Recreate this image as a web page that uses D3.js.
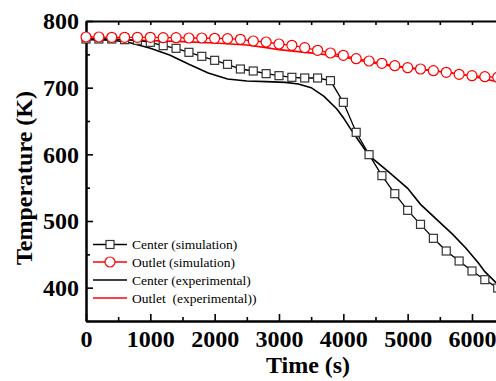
<!DOCTYPE html>
<html>
<head>
<meta charset="utf-8">
<script src="https://cdn.jsdelivr.net/npm/d3@7"></script>
<style>
  body { margin: 0; background: #fff; }
  svg { display: block; }
  text { font-family: "Liberation Serif", "Times New Roman", serif; }
</style>
</head>
<body>
<div id="chart"></div>
<script>
// simulation markers (every 200 s)
const simTimes = [0, 200, 400, 600, 800, 1000, 1200, 1400, 1600, 1800, 2000, 2200, 2400, 2600, 2800, 3000,
  3200, 3400, 3600, 3800, 4000, 4200, 4400, 4600, 4800, 5000, 5200, 5400, 5600, 5800, 6000, 6200, 6400];
const centerSim = [773, 773, 773, 772, 771, 768, 763, 759, 753, 747, 741, 735, 728, 725, 721, 718,
  715.5, 714.5, 714.5, 710.5, 678, 633, 599.5, 568, 541, 516, 495, 474, 455, 440, 425, 412, 399.5];
const outletSim = [776, 776, 775.5, 775.5, 775.5, 775.5, 775, 775, 774.5, 774.5, 774, 773.5, 772.5, 770, 768.5, 765.5,
  763.5, 760, 756, 752, 748.5, 743.5, 740, 736.5, 733, 730, 728, 725.5, 723, 720, 718, 716.5, 715.5];

// experimental curves
const centerExpTimes = [0, 300, 500, 700, 1000, 1300, 1600, 1900, 2200, 2500, 2800, 3100, 3300, 3500, 3700, 3900,
  4000, 4100, 4200, 4400, 4700, 5000, 5200, 5400, 5700, 5900, 6100, 6200, 6400, 6600];
const centerExp = [772, 771.5, 770, 767, 759, 749, 735, 722, 713, 710, 709, 708, 705.5, 700, 687, 668,
  655, 640, 626, 598, 574, 549, 525, 507, 480, 460, 437, 424, 405, 385];
const outletExpTimes = [0, 500, 1000, 1500, 2000, 2500, 2800, 3000, 3300, 3600, 4000, 4300, 4700, 5200, 5700, 6000, 6200, 6400, 6600];
const outletExp = [773, 772, 770.5, 769, 767, 764, 760, 757, 754, 751, 746, 740, 733, 727.5, 722, 717, 713, 709, 705];

const xTicks = [0, 1000, 2000, 3000, 4000, 5000, 6000];
const xMinor = [500, 1500, 2500, 3500, 4500, 5500, 6500];
const yTicks = [400, 500, 600, 700, 800];
const yMinor = [350, 450, 550, 650, 750];

const legendLabels = ["Center (simulation)", "Outlet (simulation)", "Center (experimental)", "Outlet  (experimental))"];

const W = 496, H = 381;
const plotLeft = 86, plotTop = 21, plotBottom = 321;

const svg = d3.select("#chart").append("svg")
  .attr("width", W).attr("height", H);

// plot runs past the right edge of the picture
const x = d3.scaleLinear().domain([0, 7000]).range([plotLeft, plotLeft + 7000 * 0.06433]);
const y = d3.scaleLinear().domain([350, 800]).range([plotBottom, plotTop]);

function styleAxis(g) {
  g.select(".domain").attr("stroke", "#000").attr("stroke-width", 2);
  g.selectAll(".tick line").attr("stroke", "#000").attr("stroke-width", 1.6);
  g.selectAll(".tick text")
    .attr("fill", "#000")
    .style("font-size", "24px")
    .style("font-weight", "bold");
}

// bottom axis
svg.append("g").attr("transform", "translate(0," + plotBottom + ")")
  .call(d3.axisBottom(x).tickValues(xTicks).tickSize(-7).tickSizeOuter(0).tickPadding(9).tickFormat(d3.format("d")))
  .call(styleAxis);
svg.append("g").attr("transform", "translate(0," + plotBottom + ")")
  .call(d3.axisBottom(x).tickValues(xMinor).tickSize(-4).tickSizeOuter(0).tickFormat(""))
  .call(styleAxis);

// top axis
svg.append("g").attr("transform", "translate(0," + plotTop + ")")
  .call(d3.axisTop(x).tickValues(xTicks.concat(xMinor)).tickSize(-4).tickSizeOuter(0).tickFormat(""))
  .call(styleAxis);

// left axis
svg.append("g").attr("transform", "translate(" + plotLeft + ",0)")
  .call(d3.axisLeft(y).tickValues(yTicks).tickSize(-7).tickSizeOuter(0).tickPadding(7))
  .call(styleAxis);
svg.append("g").attr("transform", "translate(" + plotLeft + ",0)")
  .call(d3.axisLeft(y).tickValues(yMinor).tickSize(-4).tickSizeOuter(0).tickFormat(""))
  .call(styleAxis);

// axis titles
svg.append("text")
  .attr("x", 308).attr("y", 373)
  .attr("text-anchor", "middle")
  .style("font-size", "24px").style("font-weight", "bold")
  .text("Time (s)");
svg.append("text")
  .attr("transform", "translate(32,178) rotate(-90)")
  .attr("text-anchor", "middle")
  .style("font-size", "24px").style("font-weight", "bold")
  .text("Temperature (K)");

const line = d3.line().x(d => x(d[0])).y(d => y(d[1]));
const zip = (a, b) => a.map((v, i) => [v, b[i]]);

const plotG = svg.append("g");

// experimental lines
plotG.append("path").datum(zip(outletExpTimes, outletExp))
  .attr("d", line).attr("fill", "none").attr("stroke", "#ff0000").attr("stroke-width", 1.6);
plotG.append("path").datum(zip(centerExpTimes, centerExp))
  .attr("d", line).attr("fill", "none").attr("stroke", "#000").attr("stroke-width", 1.6);

// simulation lines + markers
plotG.append("path").datum(zip(simTimes, centerSim))
  .attr("d", line).attr("fill", "none").attr("stroke", "#000").attr("stroke-width", 1.3);
plotG.selectAll(".sq").data(zip(simTimes, centerSim)).join("rect")
  .attr("class", "sq")
  .attr("x", d => x(d[0]) - 4).attr("y", d => y(d[1]) - 4)
  .attr("width", 8).attr("height", 8)
  .attr("fill", "#fff").attr("stroke", "#333").attr("stroke-width", 1.2);

plotG.append("path").datum(zip(simTimes, outletSim))
  .attr("d", line).attr("fill", "none").attr("stroke", "#ff0000").attr("stroke-width", 1.3);
plotG.selectAll(".ci").data(zip(simTimes, outletSim)).join("circle")
  .attr("class", "ci")
  .attr("cx", d => x(d[0])).attr("cy", d => y(d[1]))
  .attr("r", 5)
  .attr("fill", "#fff").attr("stroke", "#ff0000").attr("stroke-width", 1.2);

// legend
const legendY = [244.5, 262, 280, 298];
const legendColors = ["#000", "#ff0000", "#000", "#ff0000"];
const legendMarker = ["square", "circle", null, null];
const legG = svg.append("g");
legendLabels.forEach((lab, i) => {
  const ly = legendY[i];
  legG.append("line").attr("x1", 93).attr("x2", 127).attr("y1", ly).attr("y2", ly)
    .attr("stroke", legendColors[i]).attr("stroke-width", 1.5);
  if (legendMarker[i] === "square") {
    legG.append("rect").attr("x", 106).attr("y", ly - 4).attr("width", 8).attr("height", 8)
      .attr("fill", "#fff").attr("stroke", "#333").attr("stroke-width", 1.2);
  } else if (legendMarker[i] === "circle") {
    legG.append("circle").attr("cx", 110).attr("cy", ly).attr("r", 5)
      .attr("fill", "#fff").attr("stroke", "#ff0000").attr("stroke-width", 1.2);
  }
  legG.append("text").attr("x", 132).attr("y", ly + 4.5)
    .style("font-size", "13.5px").style("white-space", "pre")
    .attr("fill", "#000")
    .text(lab);
});
</script>
</body>
</html>
